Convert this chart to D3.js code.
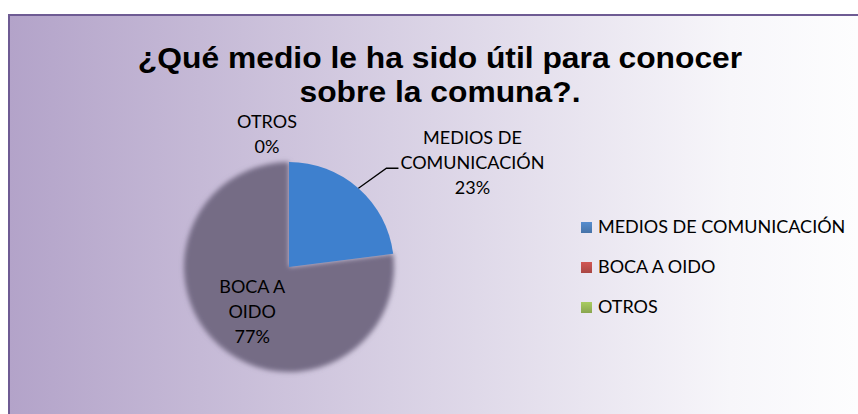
<!DOCTYPE html>
<html>
<head>
<meta charset="utf-8">
<script src="https://cdn.jsdelivr.net/npm/d3@7/dist/d3.min.js"></script>
<style>
 body { margin: 0; background: #fff; }
</style>
</head>
<body>
<div id="chart"></div>
<script>
// data
var categories = ["MEDIOS DE COMUNICACIÓN", "BOCA A OIDO", "OTROS"];
var values = [23, 77, 0];
var labelLines = [["MEDIOS DE", "COMUNICACIÓN"], ["BOCA A", "OIDO"], ["OTROS"]];
var titleLines = ["¿Qué medio le ha sido útil para conocer", "sobre la comuna?."];
var legendColors = ["#4f81bd", "#c0504d", "#9bbb59"];

var width = 858, height = 414;
var cx = 289, cy = 267, r = 105;
var labelFont = "Lato, 'Open Sans', sans-serif";

var svg = d3.select("#chart").append("svg")
 .attr("width", width)
 .attr("height", height);

var defs = svg.append("defs");

var bg = defs.append("linearGradient").attr("id", "bg")
 .attr("gradientUnits", "userSpaceOnUse")
 .attr("x1", 9).attr("x2", 858).attr("y1", 0).attr("y2", 0);
bg.append("stop").attr("offset", 0).attr("stop-color", "#b3a3c9");
bg.append("stop").attr("offset", 0.5).attr("stop-color", "#dbd4e6");
bg.append("stop").attr("offset", 0.85).attr("stop-color", "#f7f6fa");
bg.append("stop").attr("offset", 1).attr("stop-color", "#fdfdfe");

var blueGrad = defs.append("linearGradient").attr("id", "blueGrad")
 .attr("gradientUnits", "userSpaceOnUse")
 .attr("x1", 0).attr("x2", 0).attr("y1", cy - r).attr("y2", cy);
blueGrad.append("stop").attr("offset", 0).attr("stop-color", "#3e80ce");
blueGrad.append("stop").attr("offset", 1).attr("stop-color", "#2d62a5");

var greyGrad = defs.append("linearGradient").attr("id", "greyGrad")
 .attr("gradientUnits", "userSpaceOnUse")
 .attr("x1", cx - r).attr("x2", cx + r).attr("y1", 0).attr("y2", 0);
greyGrad.append("stop").attr("offset", 0).attr("stop-color", "#746c85");
greyGrad.append("stop").attr("offset", 1).attr("stop-color", "#8f8899");

var greenGrad = defs.append("linearGradient").attr("id", "greenGrad")
 .attr("x1", 0).attr("x2", 0).attr("y1", 0).attr("y2", 1);
greenGrad.append("stop").attr("offset", 0).attr("stop-color", "#a6c865");
greenGrad.append("stop").attr("offset", 1).attr("stop-color", "#7e9c44");

var soft = defs.append("filter").attr("id", "soft")
 .attr("x", "-20%").attr("y", "-20%").attr("width", "140%").attr("height", "140%");
soft.append("feGaussianBlur").attr("stdDeviation", 2.4);

var sliceFills = ["url(#blueGrad)", "url(#greyGrad)", "url(#greenGrad)"];

// legend swatch gradients
legendColors.forEach(function(c, i) {
 var g = defs.append("linearGradient").attr("id", "lg" + i)
 .attr("x1", 0).attr("x2", 0).attr("y1", 0).attr("y2", 1);
 g.append("stop").attr("offset", 0).attr("stop-color", d3.color(c).brighter(0.25));
 g.append("stop").attr("offset", 1).attr("stop-color", d3.color(c).darker(0.35));
});

// chart area
svg.append("rect")
 .attr("x", 9).attr("y", 15)
 .attr("width", width + 20).attr("height", height + 20)
 .attr("fill", "url(#bg)")
 .attr("stroke", "#6e5b93")
 .attr("stroke-width", 2);

// title, slightly wide like the original
svg.append("g").selectAll("text")
 .data(titleLines)
 .enter().append("text")
 .attr("x", 440)
 .attr("y", function(d, i) { return 68 + i * 33.5; })
 .attr("text-anchor", "middle")
 .style("font-family", "'Liberation Sans', Arial, sans-serif")
 .style("font-weight", "bold")
 .style("font-size", "30px")
 .style("fill", "#000")
 .text(function(d) { return d; })
 .each(function() {
 var len = this.getComputedTextLength();
 d3.select(this).attr("textLength", len * 1.06).attr("lengthAdjust", "spacingAndGlyphs");
 });

// pie
var total = d3.sum(values);
var pct = d3.format(".0%");
var pie = d3.pie().sort(null).value(function(d) { return d; });
var arcs = pie(values);
var arc = d3.arc().innerRadius(0).outerRadius(r);

var pieG = svg.append("g").attr("transform", "translate(" + cx + "," + cy + ")");

// grey first (soft edge), then blue on top
pieG.selectAll("path.slice")
 .data(arcs.filter(function(d) { return d.value > 0; }).reverse())
 .enter().append("path")
 .attr("class", "slice")
 .attr("d", arc)
 .attr("fill", function(d) { return sliceFills[d.index]; })
 .attr("filter", function(d) { return d.index === 1 ? "url(#soft)" : null; });

function mid(d) { return (d.startAngle + d.endAngle) / 2; }
function pt(a, rho) { return [rho * Math.sin(a), -rho * Math.cos(a)]; }

var lineH = 25;
var labelG = pieG.append("g")
 .style("font-family", labelFont)
 .style("font-size", "18px")
 .style("fill", "#000");

arcs.forEach(function(d) {
 var lines = labelLines[d.index].concat([pct(d.value / total)]);
 var a = mid(d), x, y;
 if (d.index === 0) {
 // outside with leader line
 var p0 = pt(a, r);
 var p1 = [p0[0] + 28, p0[1] - 20];
 var p2 = [p1[0] + 12, p1[1]];
 pieG.append("polyline")
 .attr("points", [p0, p1, p2].map(function(p) { return p.join(","); }).join(" "))
 .attr("fill", "none")
 .attr("stroke", "#000")
 .attr("stroke-width", 1.3);
 x = p2[0] + 74;
 y = p2[1] - 6;
 } else if (d.value / total > 0.1) {
 var c = pt(a, r * 0.53);
 x = c[0];
 y = c[1] + 3;
 } else {
 var o = pt(a, r + 28);
 x = o[0] - 22;
 y = o[1];
 }
 labelG.append("text")
 .attr("text-anchor", "middle")
 .selectAll("tspan")
 .data(lines)
 .enter().append("tspan")
 .attr("x", x)
 .attr("y", function(t, i) { return y + (i - (lines.length - 1) / 2) * lineH + 6.5; })
 .text(function(t) { return t; });
});

// legend
var legend = svg.append("g").attr("transform", "translate(581,222)");
var rows = legend.selectAll("g")
 .data(categories)
 .enter().append("g")
 .attr("transform", function(d, i) { return "translate(0," + i * 40 + ")"; });
rows.append("rect")
 .attr("width", 11).attr("height", 11)
 .attr("fill", function(d, i) { return "url(#lg" + i + ")"; });
rows.append("text")
 .attr("x", 17).attr("y", 11)
 .style("font-family", labelFont)
 .style("font-size", "18px")
 .style("fill", "#000")
 .text(function(d) { return d; });
</script>
</body>
</html>
